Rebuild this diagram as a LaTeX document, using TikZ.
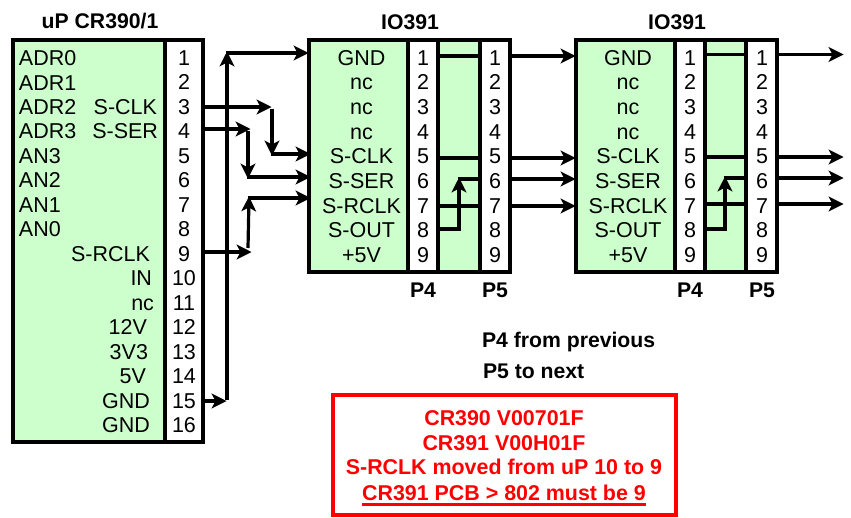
\documentclass[tikz,border=0pt]{standalone}
\usepackage{fontspec}
\setmainfont{Liberation Sans}
\usetikzlibrary{arrows.meta}
\definecolor{panelgreen}{RGB}{204,255,204}
\tikzset{
  x=1pt,y=-1pt,
  body/.style={draw=black,fill=panelgreen,line width=3.5pt,inner sep=0,outer sep=0,anchor=north west},
  pinpanel/.style={draw=black,fill=white,line width=3.5pt,inner sep=0,outer sep=0,anchor=north west},
  txt/.style={inner sep=0,outer sep=0,font=\fontsize{21.5}{24}\selectfont},
  ctr/.style={txt,anchor=base},
  lft/.style={txt,anchor=base west},
  rgt/.style={txt,anchor=base east},
  bold/.style={inner sep=0,outer sep=0,font=\fontsize{21.2}{24}\selectfont\bfseries},
  rbold/.style={inner sep=0,outer sep=0,anchor=base,text=red,font=\fontsize{21.4}{24}\selectfont\bfseries},
  wire/.style={line width=3.2pt,draw=black},
  fat/.style={line width=3.8pt,draw=black},
  arr/.style={wire,-{Stealth[length=15pt,width=15pt,inset=4pt,line width=1.2pt,sep=-1.5pt]}},
}
\begin{document}
\begin{tikzpicture}
\useasboundingbox (0,0) rectangle (851,517);
% uP block
\node[body,minimum width=154,minimum height=402] (ub) at (13,40) {};
\node[pinpanel,minimum width=38,minimum height=402] (up) at (165,40) {};
\node[bold,anchor=base] (ut) at (100,28) {uP CR390/1};
\foreach \n [evaluate=\n as \y using 65.5+24.47*(\n-1)] in {1,...,16}
  \node[ctr] (u\n) at (184,\y) {\n};
\node[lft] (l1) at (19,65.5) {ADR0};
\node[lft] (l2) at (19,90) {ADR1};
\node[lft] (l3) at (19,114.4) {ADR2};
\node[lft] (l4) at (19,138.9) {ADR3};
\node[lft] (l5) at (19,163.4) {AN3};
\node[lft] (l6) at (19,187.9) {AN2};
\node[lft] (l7) at (19,212.3) {AN1};
\node[lft] (l8) at (19,236.8) {AN0};
\node[rgt] (r3) at (157,114.4) {S-CLK};
\node[rgt] (r4) at (158,138.9) {S-SER};
\node[rgt] (r9) at (150,261.3) {S-RCLK};
\node[rgt] (r10) at (152,285.7) {IN};
\node[rgt] (r11) at (154,310.2) {nc};
\node[rgt] (r12) at (147,334.7) {12V};
\node[rgt] (r13) at (148,359.1) {3V3};
\node[rgt] (r14) at (146,383.6) {5V};
\node[rgt] (r15) at (150,408.1) {GND};
\node[rgt] (r16) at (150,432.6) {GND};
% IO391 blocks
\foreach \b/\xl/\xa/\xb/\xc/\xr/\xt/\xn/\xq/\xs in {A/309/408/438/480/510/410/361.5/423/495, B/576/675/705/746/777/677/628/690/762}{
  \node[body,minimum width=\xr-\xl,minimum height=232] (\b all) at (\xl,40) {};
  \node[pinpanel,minimum width=\xb-\xa,minimum height=232] (\b p4) at (\xa,40) {};
  \node[pinpanel,minimum width=\xr-\xc,minimum height=232] (\b p5) at (\xc,40) {};
  \node[bold,anchor=base] (\b title) at (\xt,29) {IO391};
  \foreach \n [evaluate=\n as \y using 65+24.7*(\n-1)] in {1,...,9}{
    \node[ctr] (\b q\n) at (\xq,\y) {\n};
    \node[ctr] (\b s\n) at (\xs,\y) {\n};
  }
  \foreach \n/\t [evaluate=\n as \y using 65+24.7*(\n-1)] in {1/GND,2/nc,3/nc,4/nc,5/S-CLK,6/S-SER,7/S-RCLK,8/S-OUT,9/+5V}
    \node[ctr] (\b lab\n) at (\xn,\y) {\t};
  \node[bold,anchor=base] (\b P4) at (\xq,297) {P4};
  \node[bold,anchor=base] (\b P5) at (\xs,297) {P5};
}
% uP connection points
\coordinate (o3) at (204,107);
\coordinate (o4) at (204,129);
\coordinate (o9) at (204,252);
\coordinate (o15) at (204,401);
\coordinate (j15) at (227,401);
\coordinate (j1) at (227,53);
\coordinate (j3) at (272,107);
\coordinate (k3) at (272,154);
\coordinate (j4) at (248,129);
\coordinate (k4) at (248,177);
\coordinate (j9a) at (250,252);
\coordinate (j9b) at (248,248);
\coordinate (k9) at (249,198);
\coordinate (i1) at (307,53);
\coordinate (i5) at (309,154);
\coordinate (i6) at (309,177);
\coordinate (i7) at (309,198);
\draw[arr] (o15) -- ([xshift=-2]j15);
\draw[arr] ([yshift=1.5]j15) -- (j1);
\draw[arr] ([xshift=-1.5]j1) -- (i1);
\draw[arr] (o3) -- ([xshift=-2]j3);
\draw[arr] ([yshift=-1.5]j3) -- (k3);
\draw[arr] ([xshift=-1.5]k3) -- (i5);
\draw[arr] (o4) -- ([xshift=1]j4);
\draw[arr] ([yshift=-1.5]j4) -- (k4);
\draw[arr] ([xshift=-1.5]k4) -- (i6);
\draw[arr] (o9) -- (j9a);
\draw[arr] (j9b) -- (k9);
\draw[arr] ([xshift=-1.5]k9) -- (i7);
% IO391 internal links and outputs
\foreach \b/\a/\c/\v/\ya/\yb/\yc/\yd/\ye/\r/\g in {A/438/480/459/56/158/179/206/229/510/574, B/705/746/725/54.5/157/178/204/229/777/842}{
  \coordinate (\b i1) at (\a,\ya);  \coordinate (\b o1) at (\c,\ya);
  \coordinate (\b i5) at (\a,\yb);  \coordinate (\b o5) at (\c,\yb);
  \coordinate (\b o6) at (\c,\yc);  \coordinate (\b m6) at (\v,\yc);
  \coordinate (\b i7) at (\a,\yd);  \coordinate (\b o7) at (\c,\yd);
  \coordinate (\b i8) at (\a,\ye);  \coordinate (\b m8) at (\v,\ye);
  \coordinate (\b e1) at (\r,\ya);  \coordinate (\b f1) at (\g,\ya);
  \coordinate (\b e5) at (\r,\yb);  \coordinate (\b f5) at (\g,\yb);
  \coordinate (\b e6) at (\r,\yc);  \coordinate (\b f6) at (\g,\yc);
  \coordinate (\b e7) at (\r,\yd);  \coordinate (\b f7) at (\g,\yd);
  \draw[wire] (\b i1) -- (\b o1);
  \draw[wire] (\b i5) -- (\b o5);
  \draw[wire] (\b i7) -- (\b o7);
  \draw[fat] (\b o6) -- ([xshift=-1.5]\b m6);
  \draw[fat] (\b i8) -- ([xshift=1.9]\b m8);
  \draw[arr,line width=3.8pt] (\b m8) -- (\b m6);
  \draw[arr] (\b e1) -- (\b f1);
  \draw[arr] (\b e5) -- (\b f5);
  \draw[arr] (\b e6) -- (\b f6);
  \draw[arr] (\b e7) -- (\b f7);
}
% notes
\node[bold,anchor=base west] (n1) at (482,347) {P4 from previous};
\node[bold,anchor=base west] (n2) at (483,378) {P5 to next};
\node[draw=red,line width=3.5pt,fill=white,inner sep=0,outer sep=0,anchor=north west,minimum width=343,minimum height=120] (rb) at (333,395) {};
\node[rbold] (t1) at (504,425.5) {CR390 V00701F};
\node[rbold] (t2) at (504,450.5) {CR391 V00H01F};
\node[rbold] (t3) at (504,474.5) {S-RCLK moved from uP 10 to 9};
\node[rbold] (t4) at (504,500.5) {CR391 PCB > 802 must be 9};
\draw[red,line width=2.2pt] ([yshift=-4]t4.base west) -- ([yshift=-4]t4.base east);
\end{tikzpicture}
\end{document}
